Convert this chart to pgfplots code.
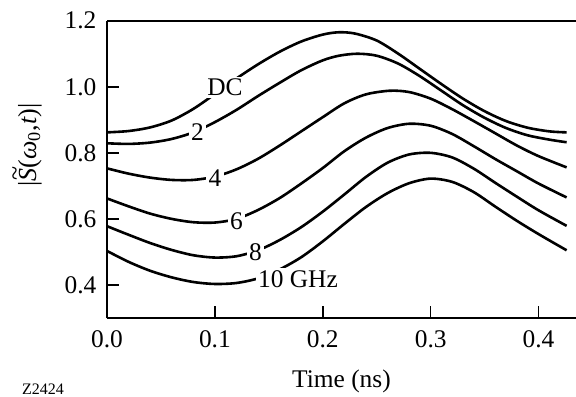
\documentclass[border=0pt]{standalone}
\usepackage{fontspec}
\setmainfont{Liberation Serif}
\usepackage{pgfplots}
\pgfplotsset{compat=1.18}
\begin{document}
\begin{tikzpicture}
\begin{axis}[
  scale only axis, width=234.5pt, height=148.65pt,
  xmin=0, xmax=0.4347, ymin=0.3, ymax=1.2,
  axis lines=left, axis line style={-, line width=0.8pt},
  clip=false,
  xtick={0,0.1,0.2,0.3,0.4}, ytick={0.4,0.6,0.8,1.0,1.2},
  tick align=inside, major tick length=5.8pt,
  tick style={line width=0.8pt, black},
  /pgf/number format/assume math mode=true,
  xticklabel style={font=\fontsize{12.7}{14}\selectfont, yshift=-2.6pt,
    /pgf/number format/fixed, /pgf/number format/fixed zerofill, /pgf/number format/precision=1},
  yticklabel style={font=\fontsize{12.7}{14}\selectfont, xshift=-1.8pt,
    /pgf/number format/fixed, /pgf/number format/fixed zerofill, /pgf/number format/precision=1},
  cycle list={black, solid, line width=1.3pt, smooth, mark=none\\},
]
% DC
\addplot coordinates {(0,0.862) (0.02,0.866) (0.04,0.877) (0.06,0.898) (0.08,0.933) (0.10,0.978) (0.12,1.025) (0.14,1.068) (0.16,1.106) (0.18,1.137) (0.20,1.158) (0.215,1.165) (0.23,1.161) (0.25,1.140) (0.27,1.100) (0.29,1.054) (0.31,1.008) (0.33,0.964) (0.35,0.926) (0.37,0.896) (0.39,0.876) (0.41,0.865) (0.426,0.862)};
% 2 GHz
\addplot coordinates {(0,0.829) (0.02,0.827) (0.04,0.831) (0.06,0.842) (0.08,0.862) (0.10,0.893) (0.12,0.930) (0.14,0.972) (0.16,1.012) (0.18,1.050) (0.20,1.080) (0.215,1.094) (0.232,1.100) (0.25,1.094) (0.27,1.070) (0.29,1.032) (0.31,0.988) (0.33,0.944) (0.35,0.906) (0.37,0.875) (0.39,0.853) (0.41,0.840) (0.426,0.832)};
% 4 GHz
\addplot coordinates {(0,0.753) (0.02,0.737) (0.04,0.725) (0.06,0.718) (0.08,0.718) (0.10,0.728) (0.12,0.750) (0.14,0.782) (0.16,0.822) (0.18,0.865) (0.20,0.908) (0.22,0.950) (0.24,0.977) (0.262,0.988) (0.28,0.984) (0.30,0.964) (0.32,0.932) (0.34,0.896) (0.36,0.859) (0.38,0.822) (0.40,0.790) (0.426,0.756)};
% 6 GHz
\addplot coordinates {(0,0.662) (0.02,0.638) (0.04,0.616) (0.06,0.600) (0.08,0.590) (0.10,0.589) (0.12,0.600) (0.14,0.627) (0.16,0.663) (0.18,0.707) (0.20,0.754) (0.22,0.805) (0.24,0.846) (0.26,0.875) (0.28,0.888) (0.30,0.882) (0.32,0.857) (0.34,0.820) (0.36,0.781) (0.38,0.744) (0.40,0.707) (0.426,0.665)};
% 8 GHz
\addplot coordinates {(0,0.578) (0.02,0.552) (0.04,0.527) (0.06,0.506) (0.08,0.490) (0.10,0.483) (0.12,0.487) (0.14,0.505) (0.16,0.536) (0.18,0.575) (0.20,0.622) (0.22,0.674) (0.24,0.727) (0.26,0.770) (0.28,0.795) (0.30,0.800) (0.32,0.786) (0.34,0.752) (0.36,0.709) (0.38,0.667) (0.40,0.626) (0.426,0.579)};
% 10 GHz
\addplot coordinates {(0,0.503) (0.02,0.470) (0.04,0.443) (0.06,0.423) (0.08,0.409) (0.10,0.403) (0.12,0.406) (0.14,0.420) (0.16,0.447) (0.18,0.484) (0.20,0.532) (0.22,0.585) (0.24,0.636) (0.26,0.678) (0.28,0.708) (0.30,0.722) (0.32,0.712) (0.34,0.681) (0.36,0.637) (0.38,0.594) (0.40,0.554) (0.426,0.505)};
\draw[line width=0.8pt] (rel axis cs:0,1) -- (rel axis cs:1,1);
\begin{scope}[every node/.style={fill=white, inner sep=1.2pt, font=\fontsize{12.7}{14}\selectfont}]
\node at (axis cs:0.1094,0.998) {DC};
\node at (axis cs:0.0839,0.864) {2};
\node at (axis cs:0.1001,0.723) {4};
\node at (axis cs:0.1200,0.593) {6};
\node at (axis cs:0.1376,0.499) {8};
\node at (axis cs:0.1770,0.417) {10 GHz};
\end{scope}
\node[font=\fontsize{12.7}{14}\selectfont] at ([yshift=-31.85pt]rel axis cs:0.5,0) {Time (ns)};
\node[rotate=90, font=\fontsize{13}{15}\selectfont] at ([xshift=-38.5pt]rel axis cs:0,0.582) {|\ooalign{\textit{S}\cr\hidewidth\kern0.12em\raisebox{0.5em}{\textasciitilde}\hidewidth\cr}(\textit{ω}\textsubscript{0},\textit{t})|};
\node[anchor=base west, inner sep=0pt, font=\fontsize{8}{9}\selectfont] at ([xshift=-42.65pt, yshift=-38.2pt]rel axis cs:0,0) {Z2424};
\coordinate (O) at (rel axis cs:0,0);
\end{axis}
\pgfresetboundingbox
\path[use as bounding box] ([shift={(-53.5pt,-39pt)}]O) rectangle ([shift={(234.5pt,159pt)}]O);
\end{tikzpicture}
\end{document}
